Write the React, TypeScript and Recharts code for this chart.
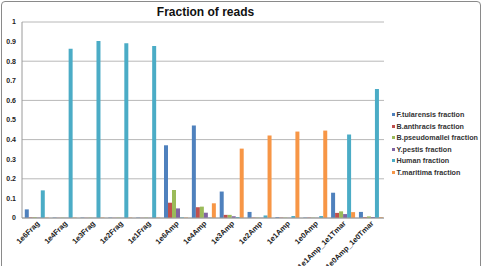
import React from 'react';
import { BarChart, Bar, XAxis, YAxis, CartesianGrid, Legend } from 'recharts';

const categories = ['1e6Frag', '1e4Frag', '1e3Frag', '1e2Frag', '1e1Frag', '1e6Amp', '1e4Amp', '1e3Amp', '1e2Amp', '1e1Amp', '1e0Amp', '1e1Amp_1e1Tmar', '1e0Amp_1e0Tmar'];
const fTularensis = [0.044, 0.002, 0.002, 0.002, 0.002, 0.371, 0.472, 0.135, 0.031, 0.004, 0.002, 0.129, 0.031];
const bAnthracis = [0.003, 0.001, 0.001, 0.001, 0.001, 0.078, 0.055, 0.016, 0.002, 0.002, 0.002, 0.026, 0.004];
const bPseudomallei = [0.004, 0.002, 0.002, 0.002, 0.002, 0.143, 0.058, 0.016, 0.002, 0.002, 0.002, 0.034, 0.008];
const yPestis = [0.002, 0.001, 0.001, 0.001, 0.001, 0.049, 0.027, 0.009, 0.001, 0.001, 0.001, 0.02, 0.005];
const human = [0.141, 0.864, 0.903, 0.891, 0.877, 0.003, 0.002, 0.005, 0.013, 0.01, 0.01, 0.426, 0.658];
const tMaritima = [0.002, 0.002, 0.002, 0.002, 0.002, 0.002, 0.075, 0.354, 0.421, 0.441, 0.446, 0.03, 0.004];
const yTicks = [0, 0.1, 0.2, 0.3, 0.4, 0.5, 0.6, 0.7, 0.8, 0.9, 1];

const seriesNames = ['F.tularensis fraction', 'B.anthracis fraction', 'B.pseudomallei fraction', 'Y.pestis fraction', 'Human fraction', 'T.maritima fraction'];
const seriesValues = [fTularensis, bAnthracis, bPseudomallei, yPestis, human, tMaritima];
const seriesColors = ['#4F81BD', '#C0504D', '#9BBB59', '#8064A2', '#4BACC6', '#F79646'];

const data = categories.map((c, i) => {
  const row: any = { name: c };
  seriesNames.forEach((s, j) => { row[s] = seriesValues[j][i]; });
  return row;
});

const FONT = 'Liberation Sans, Arial, sans-serif';

const XTick = (props: any) => {
  const { x, y, payload } = props;
  const ax = x + 4;
  const ay = y - 2;
  return (
    <text x={ax} y={ay} transform={`rotate(-45, ${ax}, ${ay})`} textAnchor="end" fontSize={7.5} fontWeight="bold" fill="#222" fontFamily={FONT}>
      {payload.value}
    </text>
  );
};

const LegendContent = () => (
  <div style={{ fontFamily: FONT, fontSize: 7.2, fontWeight: 'bold', color: '#333' }}>
    {seriesNames.map((s, i) => (
      <div key={s} style={{ height: 11.5, lineHeight: '11.5px', display: 'flex', alignItems: 'center', whiteSpace: 'nowrap' }}>
        <span style={{ display: 'inline-block', width: 3, height: 3, background: seriesColors[i], marginRight: 1.5 }} />
        <span>{s}</span>
      </div>
    ))}
  </div>
);

export default function App() {
  return (
    <div style={{ position: 'absolute', left: 0, top: 0, width: 482, height: 266, background: '#fff', overflow: 'hidden' }}>
      <div style={{ position: 'absolute', left: 1, top: 1, width: 478, height: 290, border: '1px solid #8a8a8a', borderRadius: 4 }} />
      <svg style={{ position: 'absolute', left: 0, top: 0 }} width={482} height={30}>
        <text x={205.5} y={16.3} textAnchor="middle" fontSize={12} fontWeight="bold" fill="#111" fontFamily={FONT}>Fraction of reads</text>
      </svg>
      <div style={{ position: 'absolute', left: 0, top: 0 }}>
        <BarChart width={482} height={266} data={data} margin={{ top: 22, right: 98, bottom: 0, left: 0 }} barCategoryGap="10%" barGap={0}>
          <CartesianGrid vertical={false} stroke="#b8b8b8" strokeWidth={1} />
          <XAxis dataKey="name" interval={0} height={48} tickLine={false} stroke="#9a9a9a" tick={<XTick />} />
          <YAxis width={22} domain={[0, 1]} ticks={yTicks} tickLine={false} tickSize={0} tickMargin={6} stroke="#9a9a9a"
            tick={{ fontSize: 7, fontWeight: 'bold', fill: '#222', fontFamily: FONT }} />
          <Legend layout="vertical" align="center" verticalAlign="middle" content={<LegendContent />}
            wrapperStyle={{ left: 392, top: 109, width: 90 }} />
          {seriesNames.map((s, i) => (
            <Bar key={s} dataKey={s} fill={seriesColors[i]} isAnimationActive={false} />
          ))}
        </BarChart>
      </div>
    </div>
  );
}
